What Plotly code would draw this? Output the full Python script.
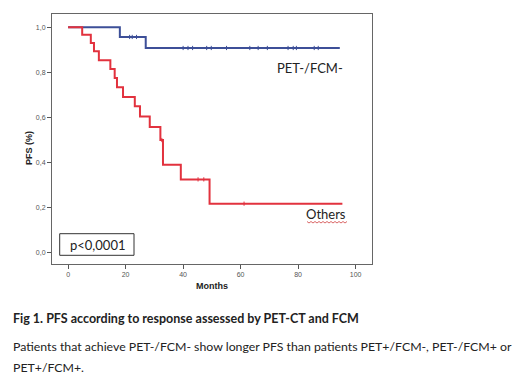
import plotly.graph_objects as go

# Kaplan-Meier step data (months, PFS proportion)
others_t = [0, 4.9, 7.9, 9.0, 10.7, 14.7, 16.2, 17.0, 19.1, 23.2, 25.0, 28.4, 32.1, 33.0, 39.2, 49.2, 95.4]
others_s = [1.0, 0.967, 0.930, 0.893, 0.853, 0.815, 0.775, 0.733, 0.690, 0.649, 0.603, 0.557, 0.499, 0.389, 0.324, 0.216, 0.216]
others_cens_t = [32.6, 45.2, 47.2, 61.2]
others_cens_s = [0.499, 0.324, 0.324, 0.216]

neg_t = [0, 18.0, 27.0, 94.5]
neg_s = [1.0, 0.957, 0.908, 0.908]
neg_cens_t = [21.4, 22.3, 23.8, 40.0, 41.7, 43.3, 48.2, 49.8, 55.1, 63.2, 66.1, 69.3, 76.5, 78.3, 79.4, 85.6, 87.0]
neg_cens_s = [0.957, 0.957, 0.957] + [0.908] * 14

x_ticks = [0, 20, 40, 60, 80, 100]
y_ticks = [0.0, 0.2, 0.4, 0.6, 0.8, 1.0]
y_tick_text = ["0,0", "0,2", "0,4", "0,6", "0,8", "1,0"]

BLUE = "#3d4f98"
RED = "#e2323e"

fig = go.Figure()
fig.add_trace(go.Scatter(x=neg_t, y=neg_s, mode="lines", line=dict(color=BLUE, width=2, shape="hv"), hoverinfo="skip"))
fig.add_trace(go.Scatter(x=neg_cens_t, y=neg_cens_s, mode="markers",
                         marker=dict(symbol="line-ns", size=3, line=dict(color=BLUE, width=1)), hoverinfo="skip"))
fig.add_trace(go.Scatter(x=others_t, y=others_s, mode="lines", line=dict(color=RED, width=2, shape="hv"), hoverinfo="skip"))
fig.add_trace(go.Scatter(x=others_cens_t, y=others_cens_s, mode="markers",
                         marker=dict(symbol="line-ns", size=3, line=dict(color=RED, width=1)), hoverinfo="skip"))

fig.update_layout(
    width=520, height=374,
    margin=dict(l=44, r=156, t=6, b=118),
    paper_bgcolor="white", plot_bgcolor="white",
    showlegend=False,
    font=dict(family="Lato, Liberation Sans, sans-serif", color="#222"),
    xaxis=dict(range=[-5.6, 105.7], tickvals=x_ticks, ticks="outside", ticklen=4, tickcolor="#555",
               tickfont=dict(size=7, color="#555", family="Liberation Sans"),
               showgrid=False, zeroline=False, showline=True, linecolor="#666", linewidth=1, mirror=True),
    yaxis=dict(range=[-0.052, 1.059], tickvals=y_ticks, ticktext=y_tick_text, ticks="outside", ticklen=4,
               tickcolor="#555", tickfont=dict(size=7, color="#555", family="Liberation Sans"),
               showgrid=False, zeroline=False, showline=True, linecolor="#666", linewidth=1, mirror=True),
)

# axis titles
fig.add_annotation(x=21, y=140, text="<b>PFS (%)</b>", showarrow=False,
                   textangle=-90, font=dict(size=9, family="Liberation Sans", color="#222"))
fig.add_annotation(text="<b>Months</b>", x=204, y=278, showarrow=False, font=dict(size=9, family="Liberation Sans", color="#222"))

# curve labels
fig.add_annotation(text="PET-/FCM-", x=302, y=60, showarrow=False, font=dict(size=13, color="#222"))
fig.add_annotation(text="Others", x=318, y=206, showarrow=False, font=dict(size=13, color="#222"))

# p-value box
fig.add_annotation(text="p<0,0001", x=89, y=236.5, showarrow=False, font=dict(size=13, color="#222"))

# caption
fig.add_annotation(text="<b>Fig 1. PFS according to response assessed by PET-CT and FCM</b>", x=3, y=310,
                   xanchor="left", showarrow=False, font=dict(size=12.5, color="#222"))
fig.add_annotation(text="Patients that achieve PET-/FCM- show longer PFS than patients PET+/FCM-, PET-/FCM+ or",
                   x=3, y=338, xanchor="left", showarrow=False, font=dict(size=12.3, color="#222"))
fig.add_annotation(text="PET+/FCM+.", x=3, y=359, xanchor="left", showarrow=False, font=dict(size=12.3, color="#222"))

# convert annotation pixel positions to paper coords
W, H = 520, 374
L, R, T, B = 44, 156, 6, 118
pw, ph = W - L - R, H - T - B
for a in fig.layout.annotations:
    px, py = a.x, a.y
    a.xref = "paper"; a.yref = "paper"
    a.x = (px - L) / pw
    a.y = 1 - (py - T) / ph
    a.yanchor = "middle"
    if a.xanchor is None:
        a.xanchor = "center"

def to_paper(px, py):
    return (px - L) / pw, 1 - (py - T) / ph

x0, y0 = to_paper(51.7, 225.7)
x1, y1 = to_paper(126, 247.3)
fig.add_shape(type="rect", xref="paper", yref="paper", x0=x0, y0=y1, x1=x1, y1=y0,
              line=dict(color="#333", width=1), fillcolor="white", layer="below")

# spellcheck squiggle under "Others"
pts = []
for i in range(0, 21):
    px = 299 + i * 2
    py = 214 + (1 if i % 2 else -0.5)
    pts.append(to_paper(px, py))
path = "M " + " L ".join(f"{x},{y}" for x, y in pts)
fig.add_shape(type="path", xref="paper", yref="paper", path=path, line=dict(color="#d04040", width=0.8))

fig.write_html("out.html")
